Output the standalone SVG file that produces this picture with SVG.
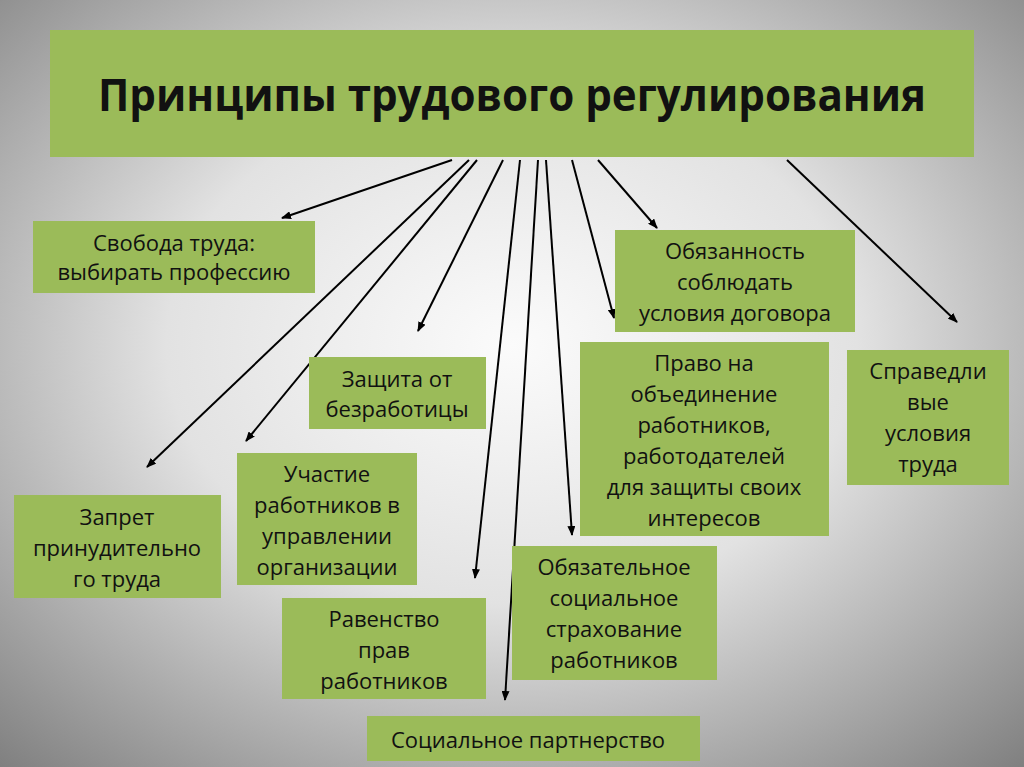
<svg xmlns="http://www.w3.org/2000/svg" width="1024" height="767" viewBox="0 0 1024 767">
<defs>
<radialGradient id="bg" cx="0.5" cy="0.45" r="0.75">
<stop offset="0" stop-color="#fbfbfb"/><stop offset="0.45" stop-color="#e2e2e2"/><stop offset="1" stop-color="#7e7e7e"/>
</radialGradient>
<marker id="ar" markerWidth="10" markerHeight="8" refX="9" refY="4" orient="auto" markerUnits="userSpaceOnUse"><path d="M0,0 L10,4 L0,8 z" fill="#000"/></marker>
<style>
.b{fill:#9bbb59}
.t{font-family:"Open Sans","Liberation Sans",Arial,sans-serif;font-size:22px;fill:#111;text-anchor:middle}
.c line{stroke:#000;stroke-width:2;marker-end:url(#ar)}
</style>
</defs>
<rect width="1024" height="767" fill="url(#bg)"/>
<g id="title"><rect class="b" x="50" y="30" width="924" height="127"/>
<text x="512" y="111" textLength="828" lengthAdjust="spacingAndGlyphs" style="font-family:'Open Sans','Liberation Sans',sans-serif;font-size:44px;font-weight:bold;fill:#111;text-anchor:middle">Принципы трудового регулирования</text></g>
<g class="c">
<line x1="452" y1="160" x2="282" y2="218"/>
<line x1="469" y1="160" x2="147" y2="467"/>
<line x1="477" y1="160" x2="246" y2="441"/>
<line x1="503" y1="160" x2="418" y2="331"/>
<line x1="520" y1="160" x2="475" y2="578"/>
<line x1="538" y1="160" x2="505" y2="700"/>
<line x1="546" y1="160" x2="572" y2="535"/>
<line x1="572" y1="160" x2="614" y2="318"/>
<line x1="598" y1="160" x2="657" y2="228"/>
<line x1="787" y1="160" x2="957" y2="322"/>
</g>
<g id="n1"><rect class="b" x="33" y="221" width="282" height="72"/><text class="t" x="174" y="251">Свобода труда:</text><text class="t" x="174" y="280">выбирать профессию</text></g>
<g id="n2"><rect class="b" x="615" y="230" width="240" height="102"/><text class="t" x="735" y="259">Обязанность</text><text class="t" x="735" y="290">соблюдать</text><text class="t" x="735" y="321">условия договора</text></g>
<g id="n3"><rect class="b" x="309" y="357" width="177" height="72"/><text class="t" x="397" y="387">Защита от</text><text class="t" x="397" y="417">безработицы</text></g>
<g id="n4"><rect class="b" x="580" y="342" width="249" height="194"/>
<text class="t" x="704" y="371">Право на</text><text class="t" x="704" y="402">объединение</text><text class="t" x="704" y="433">работников,</text><text class="t" x="704" y="464">работодателей</text><text class="t" x="704" y="495">для защиты своих</text><text class="t" x="704" y="526">интересов</text></g>
<g id="n5"><rect class="b" x="847" y="350" width="162" height="135"/><text class="t" x="928" y="379">Справедли</text><text class="t" x="928" y="410">вые</text><text class="t" x="928" y="441">условия</text><text class="t" x="928" y="472">труда</text></g>
<g id="n6"><rect class="b" x="237" y="453" width="180" height="132"/><text class="t" x="327" y="482">Участие</text><text class="t" x="327" y="513">работников в</text><text class="t" x="327" y="544">управлении</text><text class="t" x="327" y="575">организации</text></g>
<g id="n7"><rect class="b" x="14" y="495" width="207" height="103"/><text class="t" x="117" y="525">Запрет</text><text class="t" x="117" y="556">принудительно</text><text class="t" x="117" y="587">го труда</text></g>
<g id="n8"><rect class="b" x="512" y="546" width="205" height="134"/><text class="t" x="614" y="575">Обязательное</text><text class="t" x="614" y="606">социальное</text><text class="t" x="614" y="637">страхование</text><text class="t" x="614" y="668">работников</text></g>
<g id="n9"><rect class="b" x="282" y="598" width="204" height="101"/><text class="t" x="384" y="627">Равенство</text><text class="t" x="384" y="658">прав</text><text class="t" x="384" y="689">работников</text></g>
<g id="n10"><rect class="b" x="367" y="716" width="333" height="45"/><text class="t" x="528" y="748">Социальное партнерство</text></g>
</svg>
